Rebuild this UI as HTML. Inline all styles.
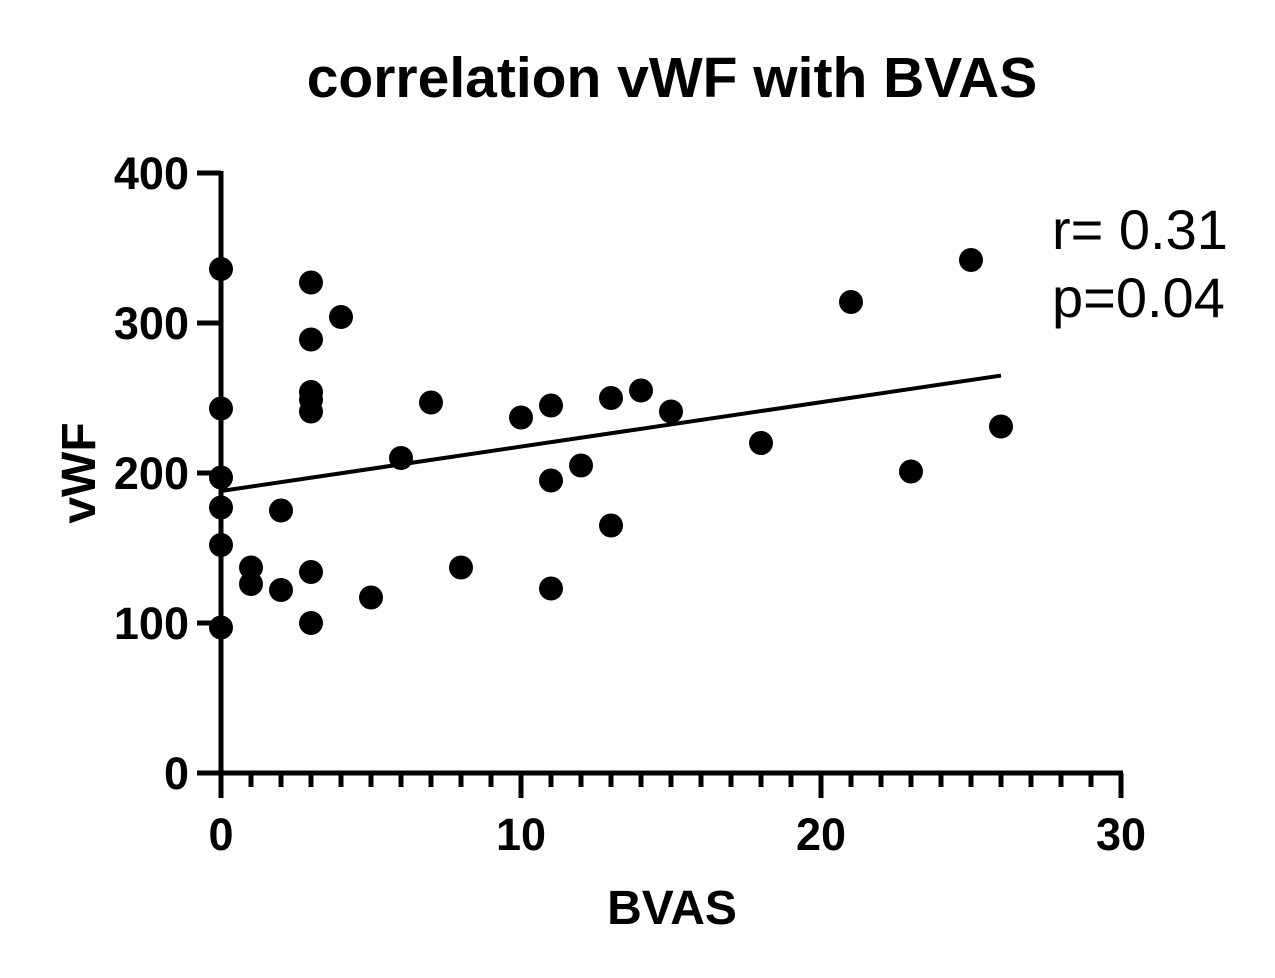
<!DOCTYPE html>
<html><head><meta charset="utf-8"><style>
html,body{margin:0;padding:0;background:#fff;}
svg{display:block;font-family:"Liberation Sans",Arial,sans-serif;}
</style></head><body>
<svg id="chart" width="1275" height="978" viewBox="0 0 1275 978" xmlns="http://www.w3.org/2000/svg">
<text x="672" y="97" text-anchor="middle" font-size="57" font-weight="bold">correlation vWF with BVAS</text>
<g id="axes"></g>
<g id="marks"></g>
<text x="672" y="924" text-anchor="middle" font-size="48" font-weight="bold">BVAS</text>
<text transform="translate(95,473) rotate(-90)" text-anchor="middle" font-size="48" font-weight="bold">vWF</text>
<text x="1052" y="249" font-size="56">r= 0.31</text>
<text x="1052" y="317" font-size="56">p=0.04</text>
</svg>
<script>
const bvas = [0,0,0,0,0,0,1,1,2,2,3,3,3,3,3,3,3,4,5,6,7,8,10,11,11,11,12,13,13,14,15,18,21,23,25,26];
const vwf = [336,243,197,177,152,97,137,126,175,122,327,289,254,249,241,134,100,304,117,210,247,137,237,245,195,123,205,250,165,255,241,220,314,201,342,231];
const xTicks = [0,10,20,30];
const yTicks = [0,100,200,300,400];
const fitIntercept = 188;
const fitSlope = 2.96;
const fitRange = [0,26];

const NS="http://www.w3.org/2000/svg";
const X = v => 221 + v*30;
const Y = v => 773 - v*1.5;
function mk(tag, attrs, parent){const e=document.createElementNS(NS,tag);for(const k in attrs)e.setAttribute(k,attrs[k]);parent.appendChild(e);return e;}
const axes=document.getElementById('axes'), marks=document.getElementById('marks');

let el=mk('line',{x1:X(0),y1:Y(400)-2,x2:X(0),y2:798,stroke:'#000','stroke-width':5},axes);


el=mk('line',{x1:X(0)-2,y1:Y(0),x2:X(30)+2,y2:Y(0),stroke:'#000','stroke-width':5},axes);



for(let i=0;i<=30;i++){
  const major = i%10===0;
  el=mk('line',{x1:X(i),y1:Y(0),x2:X(i),y2:major?798:787,stroke:'#000','stroke-width':5},axes);
  
  
}
xTicks.forEach(t=>{
  el=mk('text',{x:X(t),y:850,'text-anchor':'middle','font-size':45,'font-weight':'bold'},axes);
  el.textContent=t;
  
  
});
yTicks.forEach(t=>{
  el=mk('line',{x1:197,y1:Y(t),x2:X(0),y2:Y(t),stroke:'#000','stroke-width':5},axes);
  
  
  el=mk('text',{x:189,y:Y(t)+16,'text-anchor':'end','font-size':45,'font-weight':'bold'},axes);
  el.textContent=t;
  
  
});

el=mk('line',{x1:X(fitRange[0]),y1:Y(fitIntercept+fitSlope*fitRange[0]),x2:X(fitRange[1]),y2:Y(fitIntercept+fitSlope*fitRange[1]),stroke:'#000','stroke-width':4},marks);



bvas.forEach((b,i)=>{
  el=mk('circle',{cx:X(b),cy:Y(vwf[i]),r:12,fill:'#000'},marks);
  
  
});
</script>
</body></html>
